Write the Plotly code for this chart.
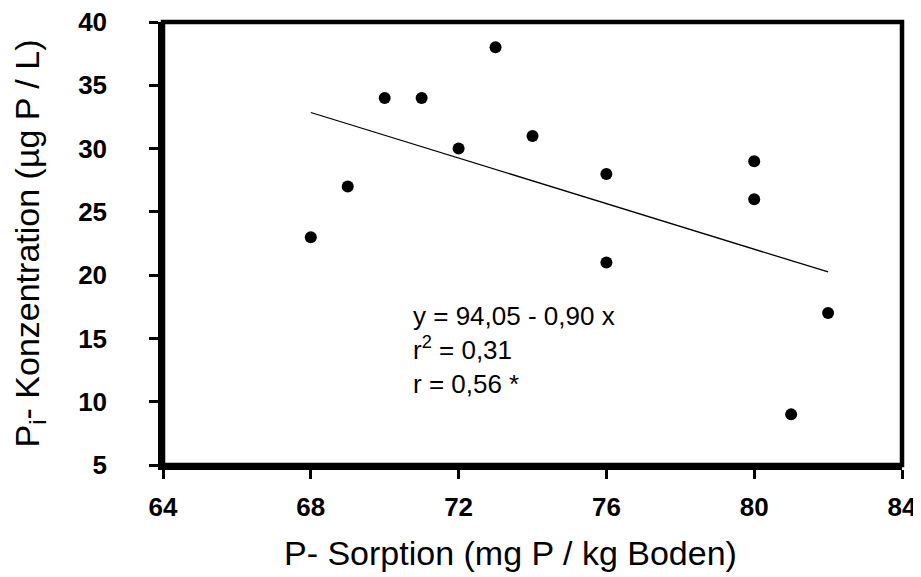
import plotly.graph_objects as go

# P-Sorption (mg P / kg Boden) vs. Pi-Konzentration (µg P / L)
sorption = [68, 69, 70, 71, 72, 73, 74, 76, 76, 80, 80, 81, 82]
konzentration = [23, 27, 34, 34, 30, 38, 31, 28, 21, 29, 26, 9, 17]

# Regression y = a + b x
reg_a = 94.05
reg_b = -0.90
reg_r2 = 0.31
reg_r = 0.56

x_ticks = [64, 68, 72, 76, 80, 84]
y_ticks = [5, 10, 15, 20, 25, 30, 35, 40]

FONT = "Arial, Liberation Sans, sans-serif"

x_line = [min(sorption), max(sorption)]
y_line = [reg_a + reg_b * x for x in x_line]


def de(v):
    return f"{v:.2f}".replace(".", ",")


fig = go.Figure()
fig.add_trace(
    go.Scatter(
        x=x_line,
        y=y_line,
        mode="lines",
        line=dict(color="black", width=1.3),
        hoverinfo="skip",
    )
)
fig.add_trace(
    go.Scatter(
        x=sorption,
        y=konzentration,
        mode="markers",
        marker=dict(size=12, color="black", line=dict(width=0)),
    )
)

eq_text = (
    f"y = {de(reg_a)} - {de(abs(reg_b))} x<br>"
    f"r<sup>2</sup> = {de(reg_r2)}<br>"
    f"r = {de(reg_r)} *"
)
fig.add_annotation(
    x=0.336,
    y=0.375,
    xref="paper",
    yref="paper",
    xanchor="left",
    yanchor="top",
    align="left",
    text=eq_text,
    showarrow=False,
    font=dict(family=FONT, size=26, color="black"),
)

# x-Achsentitel etwas links der Mitte, wie im Original
fig.add_annotation(
    x=0.47,
    y=0,
    xref="paper",
    yref="paper",
    xanchor="center",
    yanchor="middle",
    yshift=-88,
    text="P- Sorption (mg P / kg Boden)",
    showarrow=False,
    font=dict(family=FONT, size=34, color="black"),
)

# Rahmen um den Plotbereich
fig.add_shape(
    type="rect",
    xref="paper",
    yref="paper",
    x0=0,
    x1=1,
    y0=0,
    y1=1,
    line=dict(color="black", width=4.5),
    layer="above",
)

axis_common = dict(
    showline=True,
    linecolor="black",
    linewidth=4.5,
    ticks="outside",
    ticklen=9,
    tickwidth=3,
    tickcolor="black",
    showgrid=False,
    zeroline=False,
    automargin=False,
    ticklabeloverflow="allow",
    tickfont=dict(family=FONT, size=26, color="black", weight="bold"),
)

# Seite hat 8px body-Rand, daher 913x569
fig.update_layout(
    width=913,
    height=569,
    margin=dict(l=155, r=19, t=14, b=112),
    paper_bgcolor="white",
    plot_bgcolor="white",
    showlegend=False,
    xaxis=dict(
        range=[64, 84],
        tickvals=x_ticks,
        ticklabelstandoff=6,
        **axis_common,
    ),
    yaxis=dict(
        range=[5, 40],
        tickvals=y_ticks,
        ticklabelstandoff=37,
        title=dict(
            text="P<sub>i</sub>- Konzentration (µg P / L)",
            font=dict(family=FONT, size=34, color="black"),
            standoff=32,
        ),
        **axis_common,
    ),
)

fig.write_html("out.html")
